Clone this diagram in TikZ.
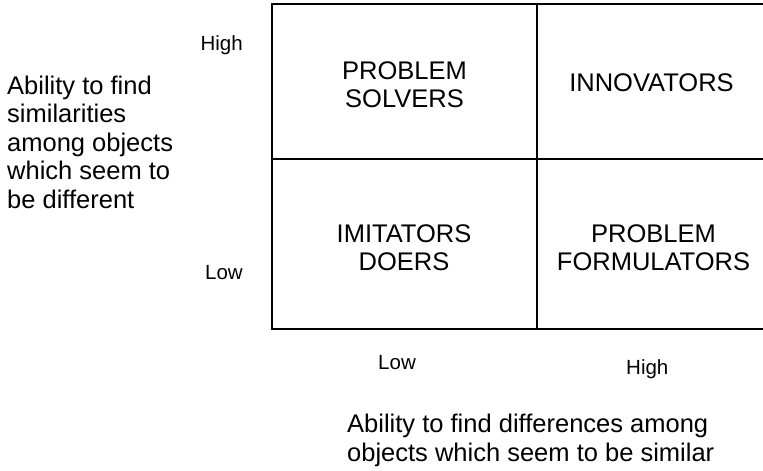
\documentclass[tikz,border=0pt]{standalone}
\usepackage{fontspec}
\setmainfont{Liberation Sans}
\begin{document}
\begin{tikzpicture}[x=1pt,y=-1pt,
  big/.style={font=\fontsize{25.5}{28.5}\selectfont, inner sep=0pt},
  small/.style={font=\fontsize{20.5}{24}\selectfont, inner sep=0pt},
  grid/.style={line width=2.2pt, black}]
\useasboundingbox (0,0) rectangle (763,471);
\coordinate (TL) at (272,4);
\coordinate (TR) at (766,4);
\coordinate (BL) at (272,329);
\coordinate (BR) at (766,329);
\coordinate (MT) at (537,4);
\coordinate (MB) at (537,329);
\coordinate (ML) at (272,159);
\coordinate (MR) at (766,159);
\draw[grid] (TR) -- (TL) -- (BL) -- (BR);
\draw[grid] (MT) -- (MB);
\draw[grid] (ML) -- (MR);
\node[big, align=center] (ps) at (404.5,84.5) {PROBLEM\\SOLVERS};
\node[big] (inn) at (651.5,82.5) {INNOVATORS};
\node[big, align=center] (imd) at (404,247.5) {IMITATORS\\DOERS};
\node[big, align=center] (pf) at (653.5,247.5) {PROBLEM\\FORMULATORS};
\node[small, anchor=base east] (yhigh) at (243,50) {High};
\node[small, anchor=base east] (ylow) at (243,279) {Low};
\node[small, anchor=base west] (xlow) at (378,369) {Low};
\node[small, anchor=base west] (xhigh) at (626,374) {High};
\node[big, align=left, anchor=base west] (ylab) at (7,208) {Ability to find\\similarities\\among objects\\which seem to\\be different};
\node[big, align=left, anchor=base west] (xlab) at (347,461) {Ability to find differences among\\objects which seem to be similar};
\end{tikzpicture}
\end{document}
